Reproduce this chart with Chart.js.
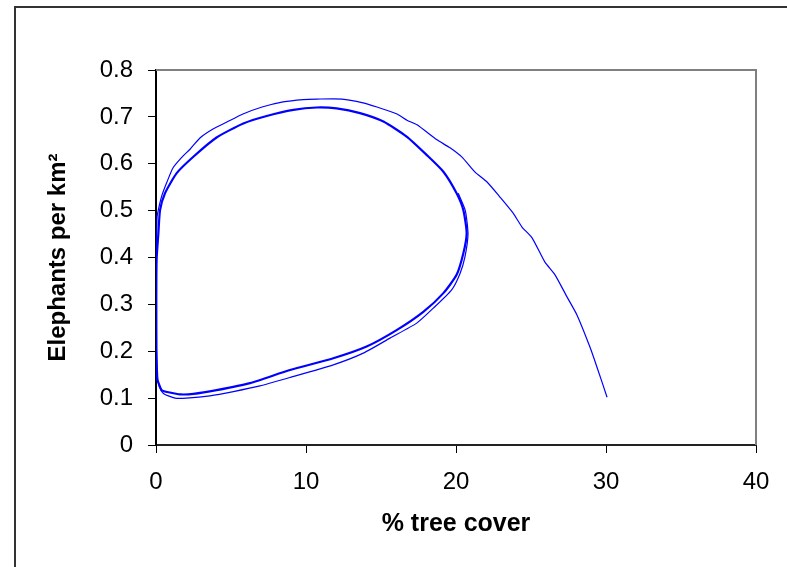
<!DOCTYPE html>
<html>
<head>
<meta charset="utf-8">
<script src="https://cdn.jsdelivr.net/npm/chart.js@4"></script>
<style>
  body { margin: 0; background: #fff; overflow: hidden; }
  #marco { position: absolute; left: 14px; top: 6px; width: 800px; height: 600px; border: 2px solid #333; }
  #grafica { position: absolute; left: 0; top: 0; }
</style>
</head>
<body>
<div id="marco"></div>
<canvas id="grafica" width="787" height="567"></canvas>
<script>
// primera vuelta, desde (30, 0.1)
var transitorio_x = [30.07,29.4,28.93,28.07,27.4,26.6,25.93,25.07,24.4,23.8,22.93,22.07,21.27,20.4,19.6,18.73,17.4,16.73,16.07,14.73,13.8,12.4,10.73,9.8,8.47,7.07,5.8,4.73,3.8,2.93,2.27,1.73,1.13,0.73,0.4,0.2,0.07,0.03,0.02,0.03,0.09,0.22,0.49,1.27,2.04,3.6,5.16,6.93,8.93,11.82,13.82,15.6,17.38,18.49,19.71,20.27,20.6,20.8,20.62,20.15]
var transitorio_y = [0.102,0.166,0.209,0.277,0.316,0.363,0.39,0.442,0.465,0.495,0.529,0.561,0.582,0.614,0.634,0.651,0.683,0.693,0.706,0.721,0.73,0.738,0.738,0.737,0.732,0.721,0.706,0.689,0.674,0.655,0.631,0.614,0.591,0.561,0.533,0.508,0.486,0.4,0.3,0.2,0.146,0.124,0.11,0.1,0.1,0.105,0.114,0.126,0.144,0.171,0.196,0.228,0.26,0.292,0.331,0.366,0.402,0.45,0.5,0.537]
// ciclo limite
var ciclo_x = [0.09,0.38,0.93,1.6,2.49,4.04,6.27,8.93,11.82,14.04,16.04,17.82,19.16,20.04,20.49,20.71,20.49,20.04,19.16,18.04,16.71,15.16,13.6,12.04,10.71,9.16,7.38,5.82,4.04,2.49,1.38,0.6,0.27,0.16,0.04,0.02,0.03,0.06,0.09]
var ciclo_y = [0.139,0.117,0.112,0.108,0.109,0.117,0.132,0.16,0.185,0.21,0.245,0.284,0.324,0.363,0.409,0.452,0.501,0.537,0.583,0.619,0.658,0.69,0.708,0.718,0.72,0.715,0.702,0.686,0.656,0.615,0.58,0.537,0.501,0.452,0.395,0.3,0.2,0.16,0.139]
var ticks_x = [0,10,20,30,40]
var ticks_y = [0,0.1,0.2,0.3,0.4,0.5,0.6,0.7,0.8]

function puntos(xs, ys){
    var lista=[]
    for(var i=0;i<xs.length;i++) lista.push({x:xs[i], y:ys[i]})
    return lista
}

var fuente = "'Liberation Sans', Arial, sans-serif"

// lineas gris arriba y a la derecha del area
var borde_gris = {
    id: 'borde_gris',
    afterDraw(chart){
        var a = chart.chartArea, ctx = chart.ctx
        ctx.save()
        ctx.strokeStyle = '#808080'
        ctx.lineWidth = 2
        ctx.beginPath()
        ctx.moveTo(a.left, a.top)
        ctx.lineTo(a.right, a.top)
        ctx.lineTo(a.right, a.bottom)
        ctx.stroke()
        ctx.restore()
    }
}

var carga = {
    type: 'scatter',
    data: {
        datasets: [{
            data: puntos(transitorio_x, transitorio_y),
            showLine: true, borderColor: '#0000ff', borderWidth: 1.2,
            pointRadius: 0, tension: 0.2, fill: false
        }, {
            data: puntos(ciclo_x, ciclo_y),
            showLine: true, borderColor: '#0000ff', borderWidth: 2.2,
            pointRadius: 0, tension: 0.2, fill: false
        }]
    },
    options: {
        responsive: false,
        animation: false,
        devicePixelRatio: 1,
        layout: { padding: { top: 70, right: 31, left: 0, bottom: 0 } },
        plugins: { legend: { display: false }, tooltip: { enabled: false } },
        scales: {
            x: {
                type: 'linear', min: 0, max: 40,
                afterFit(s){ s.height = 122 },
                afterBuildTicks(s){ s.ticks = ticks_x.map(v => ({value: v})) },
                grid: { drawOnChartArea: false, drawTicks: true, tickLength: 8, color: '#000' },
                border: { color: '#222', width: 2 },
                ticks: { color: '#000', padding: 15, font: { family: fuente, size: 24 }, maxRotation: 0 },
                title: { display: true, text: '% tree cover', color: '#000',
                    font: { family: fuente, size: 25, weight: 'bold' }, padding: { top: 0, bottom: 28 } }
            },
            y: {
                type: 'linear', min: 0, max: 0.8,
                afterFit(s){ s.width = 156 },
                afterBuildTicks(s){ s.ticks = ticks_y.map(v => ({value: v})) },
                grid: { drawOnChartArea: false, drawTicks: true, tickLength: 8, color: '#000' },
                border: { color: '#000', width: 2 },
                ticks: { color: '#000', padding: 15, font: { family: fuente, size: 24 },
                    callback: v => v === 0 ? '0' : (Math.round(v*10)/10).toFixed(1) },
                title: { display: true, text: 'Elephants per km²', color: '#000',
                    font: { family: fuente, size: 24, weight: 'bold' }, padding: { top: 44, bottom: 0 } }
            }
        }
    },
    plugins: [borde_gris]
}

var grafica = new Chart(document.getElementById('grafica'), carga)
</script>
</body>
</html>
